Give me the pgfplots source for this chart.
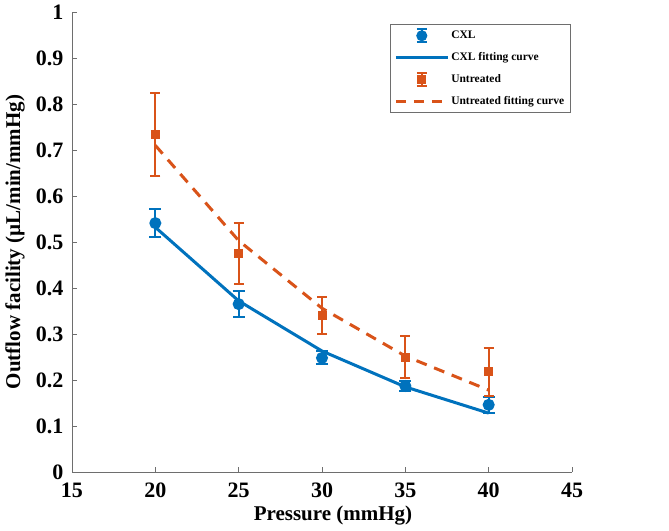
\documentclass[border=0pt]{standalone}
\usepackage{pgfplots}
\pgfplotsset{compat=1.18}
\usepackage{fontspec}
\setmainfont{Liberation Serif}
\definecolor{mblue}{RGB}{0,114,189}
\definecolor{morange}{RGB}{217,83,25}
\definecolor{axgray}{RGB}{110,110,110}
\begin{document}
\begin{tikzpicture}
\useasboundingbox (-72pt,-58pt) rectangle (597pt,472pt);
\begin{axis}[
  scale only axis, width=500pt, height=460pt,
  xmin=15, xmax=45, ymin=0, ymax=1,
  xtick={15,20,...,45}, ytick={0,0.1,...,1.0},
  axis lines*=left, axis line style={-, axgray, line width=0.8pt},
  tick style={axgray, line width=0.8pt}, tick align=inside, major tick length=5pt,
  /pgf/number format/assume math mode=true,
  tick label style={font=\bfseries\fontsize{22}{22}\selectfont, black},
  yticklabel style={/pgf/number format/fixed, xshift=-5pt},
  xticklabel style={yshift=-7pt},
  xlabel={Pressure (mmHg)}, ylabel={Outflow facility (µL/min/mmHg)},
  label style={font=\bfseries\fontsize{21}{24}\selectfont},
  xlabel style={at={(axis description cs:0.522,-0.094)}, anchor=center},
  ylabel style={at={(axis description cs:-0.114,0.5)}, anchor=center},
  legend style={at={(axis description cs:0.636,0.974)}, anchor=north west,
    font=\bfseries\fontsize{11.5}{13}\selectfont, draw=axgray, line width=0.6pt,
    row sep=7.5pt, inner sep=4pt},
  legend cell align=left,
]
% CXL data
\addplot[mblue, only marks, mark=*, mark size=5pt, line width=2pt,
  error bars/.cd, y dir=both, y explicit,
  error bar style={line width=2pt, mblue},
  error mark options={rotate=90, mark size=6pt, line width=2pt, mblue},
  /pgfplots/legend image code/.code={
    \draw[mblue, line width=2pt] (26pt,-6.5pt) -- (26pt,6.5pt)
      (21pt,-6.5pt) -- (31pt,-6.5pt) (21pt,6.5pt) -- (31pt,6.5pt);
    \fill[mblue] (26pt,0pt) circle (4.5pt);}
] table[x=x, y=y, y error=e] {
x y e
20 0.541 0.031
25 0.365 0.028
30 0.248 0.014
35 0.187 0.010
40 0.146 0.018
};
\addlegendentry{CXL}
\addplot[mblue, line width=3pt, mark=none,
  /pgfplots/legend image code/.code={\draw[mblue, line width=3pt] (0pt,0pt) -- (52pt,0pt);}]
 coordinates {(20,0.532) (25,0.372) (30,0.263) (35,0.185) (40,0.128)};
\addlegendentry{CXL fitting curve}
% Untreated data
\addplot[morange, only marks, mark=square*, mark size=3.5pt, line width=2pt,
  error bars/.cd, y dir=both, y explicit,
  error bar style={line width=2pt, morange},
  error mark options={rotate=90, mark size=5pt, line width=2pt, morange},
  /pgfplots/legend image code/.code={
    \draw[morange, line width=2pt] (26pt,-6.5pt) -- (26pt,6.5pt)
      (21pt,-6.5pt) -- (31pt,-6.5pt) (21pt,6.5pt) -- (31pt,6.5pt);
    \fill[morange] (22.5pt,-3.5pt) rectangle (29.5pt,3.5pt);}
] table[x=x, y=y, y error=e] {
x y e
20 0.733 0.090
25 0.475 0.067
30 0.341 0.040
35 0.250 0.045
40 0.218 0.052
};
\addlegendentry{Untreated}
\addplot[morange, line width=3pt, mark=none, dash pattern=on 11pt off 8pt,
  /pgfplots/legend image code/.code={\draw[morange, line width=3pt, dash pattern=on 10pt off 8pt] (0pt,0pt) -- (52pt,0pt);}]
 coordinates {(20,0.71) (25,0.503) (30,0.356) (35,0.252) (40,0.178)};
\addlegendentry{Untreated fitting curve}
\end{axis}
\end{tikzpicture}
\end{document}
